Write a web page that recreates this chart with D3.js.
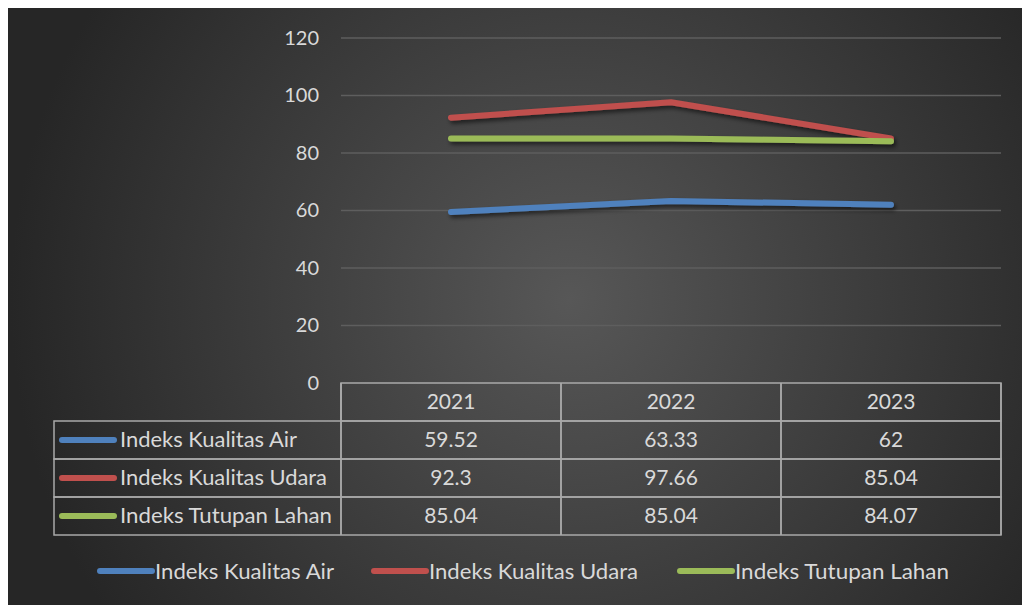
<!DOCTYPE html>
<html>
<head>
<meta charset="utf-8">
<script src="https://cdn.jsdelivr.net/npm/d3@7"></script>
<style>
  html, body { margin: 0; padding: 0; background: #fff; }
  svg { display: block; }
  text { font-family: Lato, "Open Sans", sans-serif; fill: #d9d9d9; }
</style>
</head>
<body>
<svg id="chart"></svg>
<script>
// data
const years = ['2021', '2022', '2023'];
const seriesNames = ['Indeks Kualitas Air', 'Indeks Kualitas Udara', 'Indeks Tutupan Lahan'];
const airValues = [59.52, 63.33, 62];
const udaraValues = [92.3, 97.66, 85.04];
const lahanValues = [85.04, 85.04, 84.07];
const yTicks = [0, 20, 40, 60, 80, 100, 120];
const colors = ['#4f81bd', '#c0504d', '#9bbb59'];

const series = [airValues, udaraValues, lahanValues].map((v, i) => ({
  name: seriesNames[i], values: v, color: colors[i]
}));

const width = 1022, height = 605;
const svg = d3.select('#chart').attr('width', width).attr('height', height);

// background
const defs = svg.append('defs');
const grad = defs.append('radialGradient').attr('id', 'bg')
  .attr('gradientUnits', 'userSpaceOnUse')
  .attr('cx', 570).attr('cy', 300).attr('r', 560);
grad.append('stop').attr('offset', '0%').attr('stop-color', '#575757');
grad.append('stop').attr('offset', '100%').attr('stop-color', '#262626');

const shadow = defs.append('filter').attr('id', 'shadow')
  .attr('x', '-10%').attr('y', '-50%').attr('width', '130%').attr('height', '200%');
shadow.append('feDropShadow').attr('dx', 2).attr('dy', 3)
  .attr('stdDeviation', 2).attr('flood-color', '#000').attr('flood-opacity', 0.55);

svg.append('rect').attr('x', 8).attr('y', 8)
  .attr('width', width - 8).attr('height', height - 8)
  .attr('fill', 'url(#bg)');

// scales
const x = d3.scaleBand().domain(years).range([341, 1001]).padding(0);
const y = d3.scaleLinear().domain([0, 120]).range([383, 38]);

// gridlines
svg.append('g').selectAll('line').data(yTicks.filter(d => d > 0)).join('line')
  .attr('x1', 341).attr('x2', 1001)
  .attr('y1', d => y(d)).attr('y2', d => y(d))
  .attr('stroke', '#5e5e5e').attr('stroke-width', 1.5);

// y axis labels
const yAxis = svg.append('g').attr('transform', 'translate(341,0)')
  .call(d3.axisLeft(y).tickValues(yTicks).tickSize(0).tickPadding(22));
yAxis.select('.domain').remove();
yAxis.selectAll('text').attr('font-size', 20).attr('fill', '#d9d9d9')
  .style('font-family', 'Lato, sans-serif');

// lines
const line = d3.line()
  .x((d, i) => x(years[i]) + x.bandwidth() / 2)
  .y(d => y(d));

svg.append('g').attr('filter', 'url(#shadow)')
  .selectAll('path').data(series).join('path')
  .attr('d', d => line(d.values))
  .attr('fill', 'none')
  .attr('stroke', d => d.color)
  .attr('stroke-width', 6)
  .attr('stroke-linecap', 'round')
  .attr('stroke-linejoin', 'round');

// data table
const rowH = 38;
const tableTop = y(0);
const legendLeft = 54;
const tableStroke = '#a9a9a9';
const table = svg.append('g');

// header row (only over the year columns)
table.append('rect').attr('x', 341).attr('y', tableTop)
  .attr('width', 660).attr('height', rowH)
  .attr('fill', 'none').attr('stroke', tableStroke).attr('stroke-width', 1.5);
// body rows
series.forEach((s, i) => {
  table.append('rect').attr('x', legendLeft).attr('y', tableTop + rowH * (i + 1))
    .attr('width', 1001 - legendLeft).attr('height', rowH)
    .attr('fill', 'none').attr('stroke', tableStroke).attr('stroke-width', 1.5);
});
// column separators
[341].concat(years.map(d => x(d) + x.bandwidth())).forEach(cx => {
  table.append('line').attr('x1', cx).attr('x2', cx)
    .attr('y1', tableTop).attr('y2', tableTop + rowH * 4)
    .attr('stroke', tableStroke).attr('stroke-width', 1.5);
});
years.forEach(yr => {
  table.append('line').attr('x1', x(yr)).attr('x2', x(yr))
    .attr('y1', tableTop).attr('y2', tableTop + rowH * 4)
    .attr('stroke', tableStroke).attr('stroke-width', 1.5);
});

// header text
table.selectAll('text.yr').data(years).join('text').attr('class', 'yr')
  .attr('x', d => x(d) + x.bandwidth() / 2)
  .attr('y', tableTop + rowH / 2)
  .attr('dy', '0.35em').attr('text-anchor', 'middle')
  .attr('font-size', 21).text(d => d);

const legendWidths = [177, 207, 212];
series.forEach((s, i) => {
  const cy = tableTop + rowH * (i + 1) + rowH / 2;
  table.append('line').attr('x1', 62).attr('x2', 114)
    .attr('y1', cy).attr('y2', cy)
    .attr('stroke', s.color).attr('stroke-width', 6).attr('stroke-linecap', 'round');
  table.append('text').attr('x', 120).attr('y', cy).attr('dy', '0.35em')
    .attr('font-size', 21)
    .attr('textLength', legendWidths[i]).attr('lengthAdjust', 'spacingAndGlyphs')
    .text(s.name);
  table.selectAll('text.v' + i).data(s.values).join('text').attr('class', 'v' + i)
    .attr('x', (d, j) => x(years[j]) + x.bandwidth() / 2)
    .attr('y', cy).attr('dy', '0.35em').attr('text-anchor', 'middle')
    .attr('font-size', 21).text(d => d);
});

// bottom legend
const legend = svg.append('g');
const legendX = [98, 372, 678];
const bottomWidths = [179, 209, 214];
series.forEach((s, i) => {
  const cy = 571;
  legend.append('line').attr('x1', legendX[i] + 2).attr('x2', legendX[i] + 54)
    .attr('y1', cy).attr('y2', cy)
    .attr('stroke', s.color).attr('stroke-width', 6).attr('stroke-linecap', 'round');
  legend.append('text').attr('x', legendX[i] + 57).attr('y', cy).attr('dy', '0.36em')
    .attr('font-size', 22)
    .attr('textLength', bottomWidths[i]).attr('lengthAdjust', 'spacingAndGlyphs')
    .text(s.name);
});
</script>
</body>
</html>
